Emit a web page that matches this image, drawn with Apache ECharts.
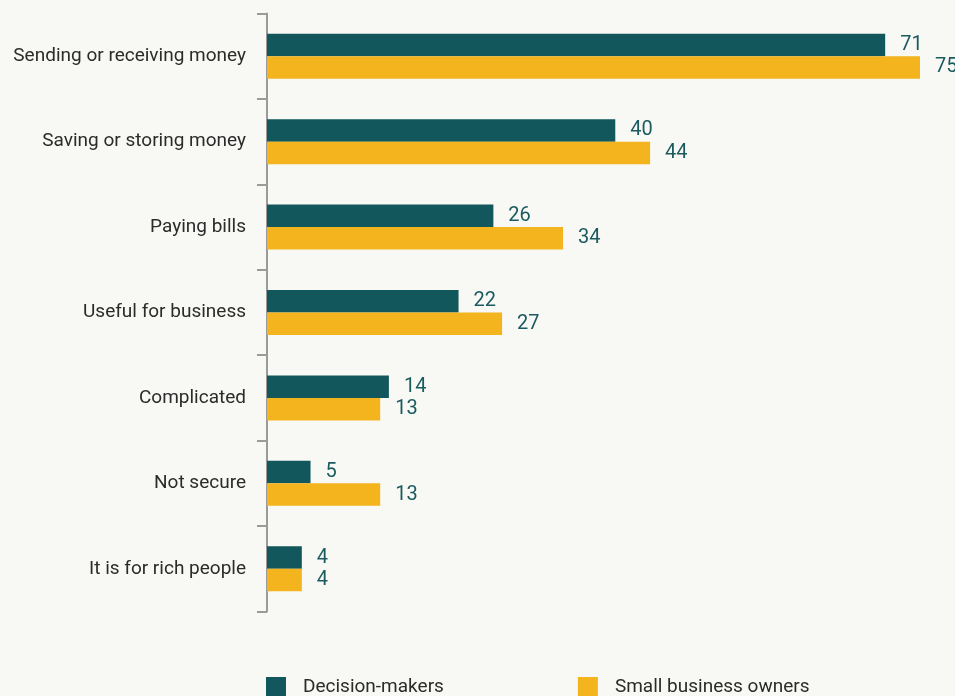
<!DOCTYPE html>
<html>
<head>
<meta charset="utf-8">
<script src="https://cdn.jsdelivr.net/npm/echarts@6/dist/echarts.min.js"></script>
<style>
  html, body { margin: 0; padding: 0; background: #f8f8f4; }
  #chart { width: 955px; height: 696px; }
</style>
</head>
<body>
<div id="chart"></div>
<script>
const categories = [
  'Sending or receiving money',
  'Saving or storing money',
  'Paying bills',
  'Useful for business',
  'Complicated',
  'Not secure',
  'It is for rich people'
];
const decisionMakers = [71, 40, 26, 22, 14, 5, 4];
const smallBusinessOwners = [75, 44, 34, 27, 13, 13, 4];
const seriesNames = ['Decision-makers', 'Small business owners'];

const TEAL = '#11575b';
const GOLD = '#f4b41e';
const FONT = 'Roboto, "Liberation Sans", sans-serif';

const valueLabel = {
  show: true,
  position: 'right',
  distance: 15,
  color: '#1b5b60',
  fontFamily: FONT,
  fontSize: 20
};

const chart = echarts.init(document.getElementById('chart'));
chart.setOption({
  backgroundColor: '#f8f8f4',
  animation: false,
  grid: {
    left: 267, right: 35, top: 13.5, bottom: 84.5,
    containLabel: false,
    outerBoundsMode: 'none'
  },
  xAxis: {
    type: 'value',
    min: 0,
    max: 75,
    show: false
  },
  yAxis: {
    type: 'category',
    data: categories,
    inverse: true,
    axisLine: { show: true, lineStyle: { color: '#9a9a9a', width: 2 } },
    axisTick: { show: true, length: 10, lineStyle: { color: '#9a9a9a', width: 2 } },
    axisLabel: { margin: 21, color: '#2b2b2b', fontFamily: FONT, fontSize: 19 },
    splitLine: { show: false }
  },
  legend: {
    data: seriesNames,
    left: 266,
    top: 677,
    padding: 0,
    itemWidth: 20,
    itemHeight: 20,
    itemGap: 134,
    icon: 'rect',
    textStyle: { color: '#2b2b2b', fontFamily: FONT, fontSize: 19, padding: [0, 0, 0, 12] }
  },
  series: [
    {
      name: seriesNames[0],
      type: 'bar',
      data: decisionMakers,
      itemStyle: { color: TEAL },
      barWidth: 22.5,
      barGap: '0%',
      label: valueLabel
    },
    {
      name: seriesNames[1],
      type: 'bar',
      data: smallBusinessOwners,
      itemStyle: { color: GOLD },
      barWidth: 22.5,
      barGap: '0%',
      label: valueLabel
    }
  ]
});
</script>
</body>
</html>
